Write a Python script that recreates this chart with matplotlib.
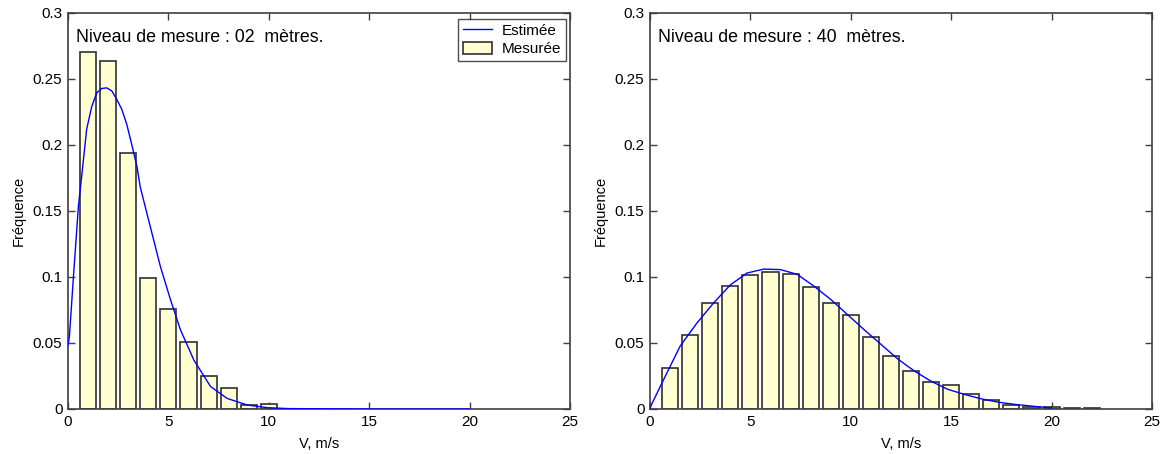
import matplotlib
matplotlib.use("Agg")
import matplotlib.pyplot as plt
from matplotlib.patches import Patch
from matplotlib.lines import Line2D

plt.rcParams['font.family'] = ['Liberation Sans', 'DejaVu Sans']

# ---- Data: 2 m level ----
bins_02 = [1, 2, 3, 4, 5, 6, 7, 8, 9, 10]
meas_02 = [0.2705, 0.2634, 0.194, 0.099, 0.076, 0.0508, 0.0253, 0.0157, 0.003, 0.004]
est_x_02 = [0.0, 0.07, 0.27, 0.52, 0.68, 0.93, 1.18, 1.43, 1.68, 1.93, 2.18, 2.43,
            2.68, 2.93, 3.18, 3.43, 3.6, 4.1, 4.6, 5.1, 5.6, 6.27, 7.1, 7.93, 8.93,
            9.93, 11.0, 15.0, 20.0]
est_y_02 = [0.048, 0.055, 0.10, 0.154, 0.176, 0.212, 0.229, 0.2395, 0.2428, 0.2433,
            0.241, 0.2345, 0.227, 0.2155, 0.200, 0.184, 0.168, 0.138, 0.108, 0.083,
            0.060, 0.037, 0.017, 0.008, 0.003, 0.001, 0.0003, 0.0, 0.0]

# ---- Data: 40 m level ----
bins_40 = list(range(1, 23))
meas_40 = [0.0312, 0.0564, 0.0804, 0.093, 0.1014, 0.104, 0.1024, 0.0923, 0.0804,
           0.0711, 0.0547, 0.040, 0.0287, 0.0206, 0.018, 0.0115, 0.0067, 0.0029,
           0.0014, 0.0014, 0.0006, 0.0006]
est_x_40 = [0.0, 0.67, 1.5, 2.33, 3.17, 4.0, 4.83, 5.67, 6.5, 7.33, 8.17, 9.0, 9.83,
            10.67, 11.5, 12.33, 13.17, 14.0, 14.83, 15.67, 16.5, 17.33, 18.17, 19.0,
            19.83, 20.0]
est_y_40 = [0.001, 0.022, 0.0476, 0.065, 0.0804, 0.094, 0.103, 0.106, 0.1056, 0.102,
            0.093, 0.083, 0.0716, 0.060, 0.049, 0.038, 0.0287, 0.021, 0.0149, 0.011,
            0.0077, 0.0052, 0.0035, 0.0022, 0.001, 0.0009]

titles = ["Niveau de mesure : 02  mètres.", "Niveau de mesure : 40  mètres."]
xticks = [0, 5, 10, 15, 20, 25]
yticks = [0, 0.05, 0.1, 0.15, 0.2, 0.25, 0.3]
ytick_labels = ["0", "0.05", "0.1", "0.15", "0.2", "0.25", "0.3"]

W, H = 1169, 454
fig = plt.figure(figsize=(W / 100, H / 100), dpi=100)
fig.patch.set_facecolor('white')

bar_face = '#ffffd2'
bar_edge = '#303030'
spine_col = '#404040'

def setup(ax, bins, meas, ex, ey, title, legend=False):
    ax.bar(bins, meas, width=0.8, color=bar_face, edgecolor=bar_edge, linewidth=1.2,
           zorder=2, label='Mesurée')
    ax.plot(ex, ey, color='#0000ff', linewidth=1.0, zorder=3, label='Estimée')
    ax.set_xlim(0, 25)
    ax.set_ylim(0, 0.3)
    ax.set_xticks(xticks)
    ax.set_xticklabels([str(t) for t in xticks])
    ax.set_yticks(yticks)
    ax.set_yticklabels(ytick_labels)
    ax.tick_params(direction='in', top=True, right=True, length=5, width=1,
                   color=spine_col, labelsize=11, pad=4)
    for s in ax.spines.values():
        s.set_color(spine_col)
        s.set_linewidth(1.2)
    ax.set_xlabel('V, m/s', fontsize=10.5, labelpad=6)
    ax.set_ylabel('Fréquence', fontsize=10.5, labelpad=5)
    ax.text(0.016, 0.927, title, transform=ax.transAxes, ha='left', va='baseline',
            fontsize=12.8)
    if legend:
        handles = [Line2D([0], [0], color='#0000ff', lw=1.0),
                   Patch(facecolor=bar_face, edgecolor=bar_edge, linewidth=1.2)]
        leg = ax.legend(handles, ['Estimée', 'Mesurée'], loc='upper right',
                        bbox_to_anchor=(0.992, 0.985), fontsize=11, frameon=True,
                        fancybox=False, borderpad=0.3, handlelength=1.9,
                        handleheight=0.85, handletextpad=0.65, labelspacing=0.25,
                        borderaxespad=0.0)
        leg.get_frame().set_edgecolor('#202020')
        leg.get_frame().set_linewidth(1.0)

ax1 = fig.add_axes([68 / W, 45 / H, 502 / W, 396 / H])
ax2 = fig.add_axes([650 / W, 45 / H, 502 / W, 396 / H])
setup(ax1, bins_02, meas_02, est_x_02, est_y_02, titles[0], legend=True)
setup(ax2, bins_40, meas_40, est_x_40, est_y_40, titles[1])

fig.savefig('out.png', dpi=100, facecolor='white')
